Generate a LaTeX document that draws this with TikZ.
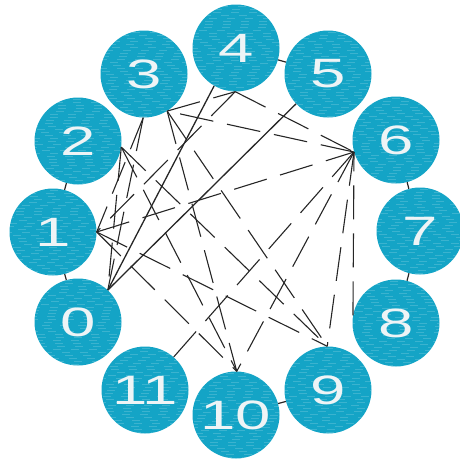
\documentclass[tikz,border=0pt]{standalone}
\usepackage{fontspec}
\newfontfamily\digitfont{Liberation Sans}
\definecolor{disc}{RGB}{20,164,198}
\definecolor{digitcol}{RGB}{238,244,246}
\newcommand\dg[1]{\scalebox{1.55}[1]{#1}}
\begin{document}
\begin{tikzpicture}[x=1pt,y=-1pt,
  streakline/.style={white,opacity=0.17,line width=1pt,dash pattern=on 8pt off 10pt},
  disc/.style={circle,minimum size=87pt,inner sep=0pt,fill=disc,text=digitcol,
    font=\digitfont\fontsize{41}{41}\selectfont,
    path picture={
      \foreach \k in {-14,...,14}{
        \pgfmathrandominteger{\ph}{0}{17}
        \draw[streakline,dash phase=\ph pt] ([xshift=-46pt,yshift=\k*3pt]path picture bounding box.center) -- ++(92,0);
      }
    }},
  ring/.style={black!85,line width=1.2pt},
  strong/.style={black!85,line width=1.3pt},
  link/.style={black!85,line width=1.1pt,dash pattern=on 34pt off 14pt}]
\useasboundingbox (0,0) rectangle (459,461);
\pgfmathsetseed{7}
% circles
\node[disc] (n0)  at (78,322)  {\dg{0}};
\node[disc] (n1)  at (53,232)  {\dg{1}};
\node[disc] (n2)  at (78,141)  {\dg{2}};
\node[disc] (n3)  at (144,74)  {\dg{3}};
\node[disc] (n4)  at (236,48)  {\dg{4}};
\node[disc] (n5)  at (328,74)  {\dg{5}};
\node[disc] (n6)  at (396,140) {\dg{6}};
\node[disc] (n7)  at (420,231) {\dg{7}};
\node[disc] (n8)  at (396,323) {\dg{8}};
\node[disc] (n9)  at (328,390) {\dg{9}};
\node[disc] (n10) at (236,415) {\dg{10}};
\node[disc] (n11) at (145,390) {\dg{11}};
% short solid links between neighbours
\draw[ring] (n0) -- (n1);
\draw[ring] (n1) -- (n2);
\draw[ring] (n4) -- (n5);
\draw[ring] (n6) -- (n7);
\draw[ring] (n7) -- (n8);
\draw[ring] (n9) -- (n10);
% ports
\coordinate (p0)  at (n0.47);
\coordinate (p1)  at (n1.0);
\coordinate (p2)  at (n2.-8);
\coordinate (p3)  at (n3.-58);
\coordinate (q3)  at (n3.-91);
\coordinate (p4)  at (n4.-91);
\coordinate (q4)  at (n4.-120);
\coordinate (q5)  at (n5.-137);
\coordinate (p6)  at (n6.-164);
\coordinate (p8)  at (n8.170);
\coordinate (p9)  at (n9.91);
\coordinate (p10) at (n10.89);
\coordinate (p11) at (n11.49);
% solid chords
\draw[strong] (q4) -- (p0);
\draw[strong] (q5) -- (p0);
% dashed chords
\draw[link] (p2) -- (p0);
\draw[link] (q3) -- (p0);
\draw[link] (q3) -- (p1);
\draw[link] (p4) -- (p1);
\draw[link] (p1) -- (p6);
\draw[link] (p1) -- (p9);
\draw[link] (p1) -- (p10);
\draw[link] (p2) -- (p9);
\draw[link] (p2) -- (p10);
\draw[link] (p3) -- (p4);
\draw[link] (p6) -- (p3);
\draw[link] (p3) -- (p9);
\draw[link] (p3) -- (p10);
\draw[link] (p4) -- (p6);
\draw[link] (p8) -- (p6);
\draw[link] (p6) -- (p9);
\draw[link] (p6) -- (p10);
\draw[link] (p11) -- (p6);
\end{tikzpicture}
\end{document}
